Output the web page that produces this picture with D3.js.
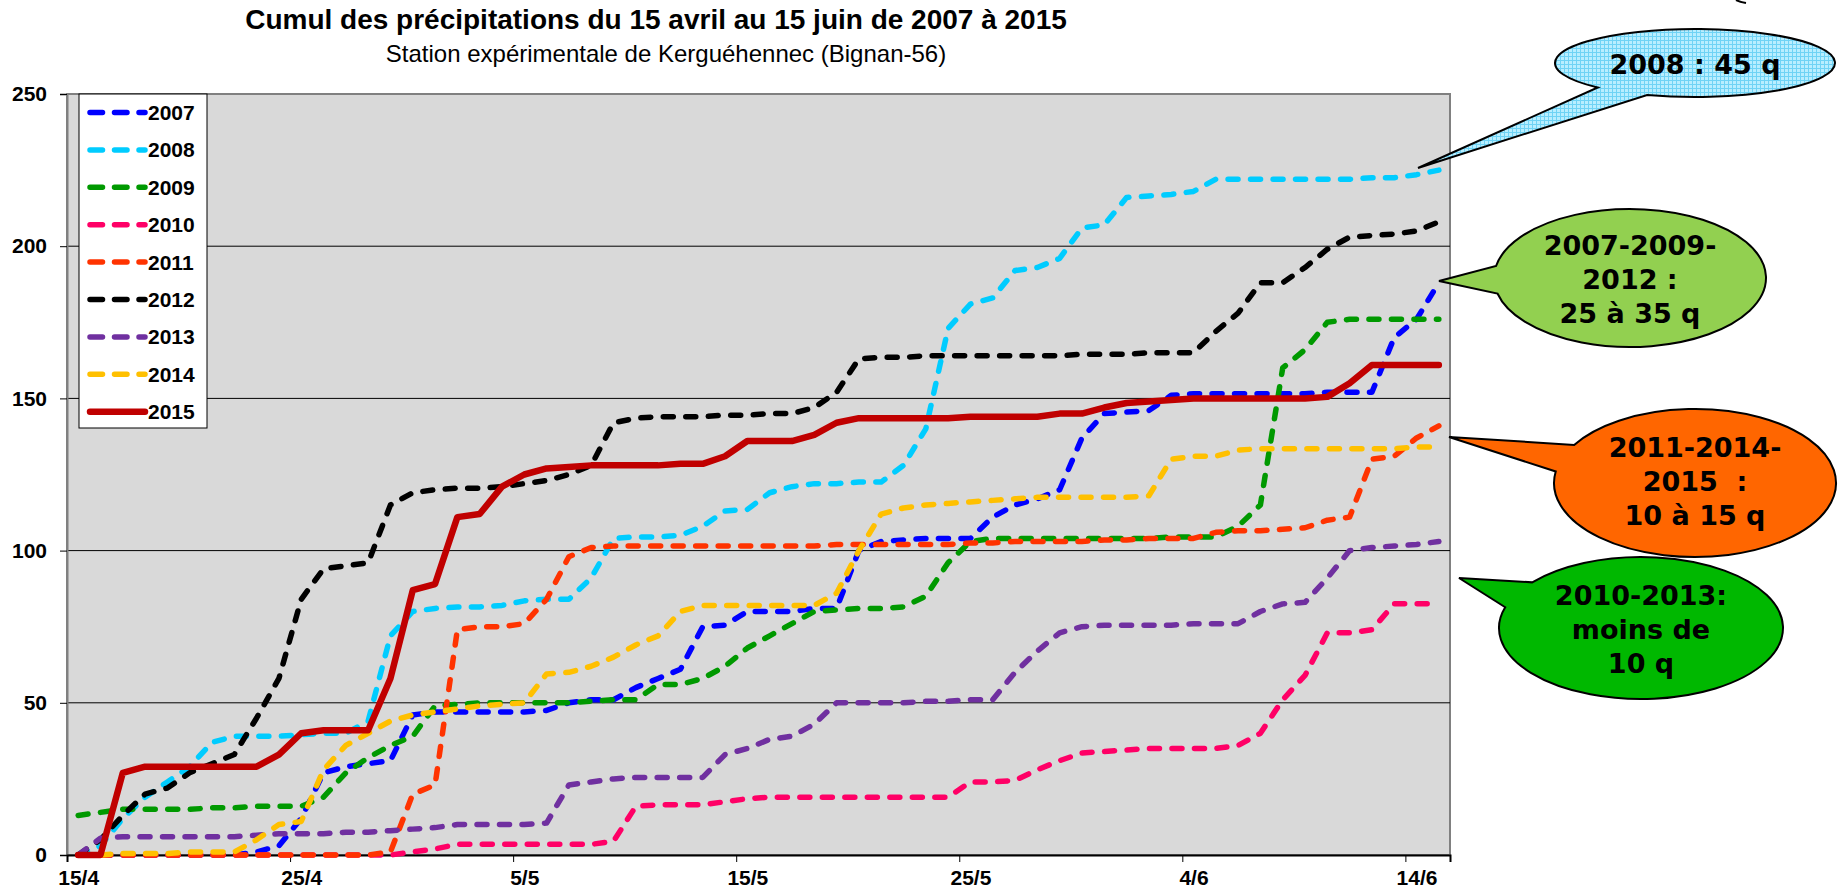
<!DOCTYPE html>
<html>
<head>
<meta charset="utf-8">
<script src="https://cdn.jsdelivr.net/npm/d3@7"></script>
<style>
  body { margin: 0; background: #fff; }
  svg { display: block; }
  .tick text { font-family: "Liberation Sans", Arial, sans-serif; font-weight: bold; font-size: 21px; fill: #000; }
</style>
</head>
<body>
<svg id="chart" width="1838" height="889"></svg>
<script>
// days from 15/4 to 15/6 (one value per day)
var categories = d3.timeDay.range(new Date(2015, 3, 15), new Date(2015, 5, 16)).map(d3.timeFormat('%-d/%-m'));
var tickDays = [0, 10, 20, 30, 40, 50, 60];
var yTicks = [0, 50, 100, 150, 200, 250];
var years = ['2007', '2008', '2009', '2010', '2011', '2012', '2013', '2014', '2015'];

var v2007 = [0, 0, 0, 0, 0, 0, 0, 0, 1, 3, 12, 27, 29, 30, 31, 46, 47, 47, 47, 47, 47, 47.5, 50, 51, 51, 55, 58, 61, 75, 75.5,
  80, 80, 80, 81, 81, 100, 103, 103.5, 104, 104, 104, 111, 115, 117, 120, 137, 145, 145.5, 146, 151, 151.5, 151.5, 151.5, 151.5, 151.5, 151.5,
  152, 152, 152, 170, 176, 188];
var v2008 = [0, 3, 12, 19, 24, 29, 37, 39, 39, 39, 39.5, 40, 40, 44, 72, 80, 81, 81.5, 81.5, 82, 83.5, 84, 84, 91, 104, 104.5, 104.5, 105, 108, 113,
  113.5, 119, 121, 122, 122, 122.5, 122.5, 128, 140, 173, 181, 183, 192, 193, 196, 206, 207, 216, 216.5, 217, 218, 222, 222, 222, 222, 222,
  222, 222, 222.5, 222.5, 223.5, 225];
var v2009 = [13, 14, 15, 15, 15, 15, 15.5, 15.5, 16, 16, 16, 19, 27, 32, 36, 39, 49, 49.5, 50, 50, 50, 50, 50, 50.5, 51, 51, 56, 56, 58, 62,
  68, 72, 76, 80, 80.5, 81, 81, 81.5, 85, 96, 103, 104, 104, 104, 104, 104, 104, 104, 104, 104.5, 104.5, 104.5, 108, 115, 160, 166,
  175, 176, 176, 176, 176, 176];
var v2010 = [0, 0, 0, 0, 0, 0, 0, 0, 0, 0, 0, 0, 0, 0, 0, 1, 2, 3.5, 3.5, 3.5, 3.5, 3.5, 3.5, 3.5, 4.5, 16, 16.5, 16.5, 16.5, 17.5,
  18.5, 19, 19, 19, 19, 19, 19, 19, 19, 19, 24, 24, 24.5, 28, 31, 33.5, 34, 34.5, 35, 35, 35, 35, 36, 40, 51, 59,
  73, 73, 74, 82.5, 82.5, 82.5];
var v2011 = [0, 0, 0, 0, 0, 0, 0, 0, 0, 0, 0, 0, 0, 0, 1, 20, 23, 74, 75, 75, 76, 84, 98, 101, 101.5, 101.5, 101.5, 101.5, 101.5, 101.5,
  101.5, 101.5, 101.5, 101.5, 102, 102, 102, 102, 102, 102, 102.5, 102.5, 103, 103, 103, 103, 103.5, 103.5, 104, 104, 104, 106, 106.5, 106.5, 107, 107.5,
  110, 111, 130, 131, 137, 141];
var v2012 = [0, 5, 13, 20, 22, 27, 30, 33, 45, 58, 84, 94, 95, 96, 115, 119, 120, 120.5, 120.5, 121, 122, 123, 125, 128, 142, 143.5, 144, 144, 144, 144.5,
  144.5, 145, 145, 147, 152, 163, 163.5, 163.5, 164, 164, 164, 164, 164, 164, 164, 164.5, 164.5, 164.5, 165, 165, 165, 172, 178, 188, 188, 193,
  199, 203, 203.5, 204, 205, 208];
var v2013 = [0, 5.5, 6, 6, 6, 6, 6, 6, 6.5, 7, 7, 7, 7.5, 7.5, 8, 8.5, 9, 10, 10, 10, 10, 10.5, 23, 24, 25, 25.5, 25.5, 25.5, 25.5, 33,
  35, 38, 39, 43, 50, 50, 50, 50, 50.5, 50.5, 51, 51, 60, 67, 73, 75, 75.5, 75.5, 75.5, 75.5, 76, 76, 76, 80, 82.5, 83,
  91, 100, 101, 101.5, 102, 103];
var v2014 = [0, 0, 0.5, 0.5, 0.5, 1, 1, 1, 5, 10, 11, 28, 36, 40, 44, 46, 47, 48, 49, 49.5, 50, 59.5, 60, 62, 65, 69, 72, 80, 82, 82,
  82, 82, 82, 82, 86, 100, 112, 114, 115, 115.5, 116, 116.5, 117, 117.5, 117.5, 117.5, 117.5, 117.5, 118, 130, 131, 131, 133, 133.5, 133.5, 133.5,
  133.5, 133.5, 133.5, 133.5, 134, 134];
var v2015 = [0, 0, 27, 29, 29, 29, 29, 29, 29, 33, 40, 41, 41, 41, 58, 87, 89, 111, 112, 121, 125, 127, 127.5, 128, 128, 128, 128, 128.5, 128.5, 131,
  136, 136, 136, 138, 142, 143.5, 143.5, 143.5, 143.5, 143.5, 144, 144, 144, 144, 145, 145, 147, 148.5, 149, 149.5, 150, 150, 150, 150, 150, 150,
  150.5, 155, 161, 161, 161, 161];

var seriesValues = [v2007, v2008, v2009, v2010, v2011, v2012, v2013, v2014, v2015];
var colors = ['#0000FF', '#00CCFF', '#009900', '#FF0066', '#FF3300', '#000000', '#7030A0', '#FFC000', '#C00000'];

var title = 'Cumul des précipitations du 15 avril au 15 juin de 2007 à 2015';
var subtitle = 'Station expérimentale de Kerguéhennec (Bignan-56)';

var callouts = [
  { lines: ['2008 : 45 q'], fill: 'url(#hatch)', cx: 1695, cy: 63, rx: 140, ry: 34, a1: 134, a2: 110, tip: [1418, 168], ty: 74 },
  { lines: ['2007-2009-', '2012 :', '25 à 35 q'], fill: '#92D050', cx: 1630, cy: 278, rx: 136, ry: 69, a1: 190, a2: 167, tip: [1439, 281], ty: 255 },
  { lines: ['2011-2014-', '2015  :', '10 à 15 q'], fill: '#FF6600', cx: 1695, cy: 483, rx: 141, ry: 74, a1: 211, a2: 189, tip: [1449, 437], ty: 457 },
  { lines: ['2010-2013:', 'moins de', '10 q'], fill: '#00B800', cx: 1641, cy: 628, rx: 142, ry: 71, a1: 220, a2: 197, tip: [1459, 578], ty: 605 }
];

var plot = { left: 67, right: 1450, top: 94, bottom: 855 };

var svg = d3.select('#chart');

var defs = svg.append('defs');
var hatch = defs.append('pattern')
  .attr('id', 'hatch')
  .attr('width', 4)
  .attr('height', 4)
  .attr('patternUnits', 'userSpaceOnUse');
hatch.append('rect').attr('width', 4).attr('height', 4).attr('fill', '#B8EEFF');
hatch.append('path').attr('d', 'M0,0.5H4M0.5,0V4').attr('stroke', '#6FD3F5').attr('stroke-width', 1);

var x = d3.scaleLinear()
  .domain([0, categories.length])
  .range([plot.left, plot.right]);

var y = d3.scaleLinear()
  .domain([0, 250])
  .range([plot.bottom, plot.top]);

// titles
svg.append('text')
  .attr('x', 656)
  .attr('y', 29)
  .attr('text-anchor', 'middle')
  .attr('font-family', '"Liberation Sans", Arial, sans-serif')
  .attr('font-weight', 'bold')
  .attr('font-size', 28)
  .text(title);

svg.append('text')
  .attr('x', 666)
  .attr('y', 62)
  .attr('text-anchor', 'middle')
  .attr('font-family', '"Liberation Sans", Arial, sans-serif')
  .attr('font-size', 24)
  .text(subtitle);

// plot area
svg.append('rect')
  .attr('x', plot.left)
  .attr('y', plot.top)
  .attr('width', plot.right - plot.left)
  .attr('height', plot.bottom - plot.top)
  .attr('fill', '#D9D9D9')
  .attr('stroke', '#808080')
  .attr('stroke-width', 2);

svg.append('g')
  .selectAll('line')
  .data(yTicks.filter(function(d) { return d > 0 && d < 250; }))
  .enter().append('line')
    .attr('x1', plot.left)
    .attr('x2', plot.right)
    .attr('y1', function(d) { return y(d); })
    .attr('y2', function(d) { return y(d); })
    .attr('stroke', '#000')
    .attr('stroke-width', 1);

// axes
var yAxis = d3.axisLeft(y)
  .tickValues(yTicks)
  .tickSize(7)
  .tickPadding(13);

var yg = svg.append('g')
  .attr('transform', 'translate(' + plot.left + ',0)')
  .call(yAxis);
yg.select('.domain').attr('stroke', '#808080').attr('stroke-width', 2);

var xAxis = d3.axisBottom(x)
  .tickValues(tickDays)
  .tickFormat(function(i) { return categories[i]; })
  .tickSize(7)
  .tickPadding(8);

var xg = svg.append('g')
  .attr('transform', 'translate(0,' + plot.bottom + ')')
  .call(xAxis);
xg.select('.domain').attr('stroke', '#000').attr('stroke-width', 2);
xg.selectAll('.tick text').attr('dx', (x(1) - x(0)) / 2);

// lines
var line = d3.line()
  .x(function(d, i) { return x(i + 0.5); })
  .y(function(d) { return y(d); });

svg.append('g')
  .selectAll('path')
  .data(seriesValues)
  .enter().append('path')
    .attr('d', line)
    .attr('fill', 'none')
    .attr('stroke', function(d, i) { return colors[i]; })
    .attr('stroke-width', function(d, i) { return i === 8 ? 6.5 : 5.5; })
    .attr('stroke-dasharray', function(d, i) { return i === 8 ? null : '10 12.5'; })
    .attr('stroke-linecap', 'round')
    .attr('stroke-linejoin', 'round');

// legend
var legend = svg.append('g').attr('transform', 'translate(79,94)');
legend.append('rect')
  .attr('width', 128)
  .attr('height', 334)
  .attr('fill', '#fff')
  .attr('stroke', '#000')
  .attr('stroke-width', 1);

var items = legend.selectAll('.item')
  .data(years)
  .enter().append('g')
    .attr('class', 'item')
    .attr('transform', function(d, i) { return 'translate(0,' + (18.5 + i * 37.4) + ')'; });

items.append('line')
  .attr('x1', 11)
  .attr('x2', 66)
  .attr('stroke', function(d, i) { return colors[i]; })
  .attr('stroke-width', function(d, i) { return i === 8 ? 6.5 : 5.5; })
  .attr('stroke-dasharray', function(d, i) { return i === 8 ? null : '12.5 12'; })
  .attr('stroke-linecap', 'round');

items.append('text')
  .attr('x', 69)
  .attr('dy', '0.36em')
  .attr('font-family', '"Liberation Sans", Arial, sans-serif')
  .attr('font-weight', 'bold')
  .attr('font-size', 21)
  .text(function(d) { return d; });

// callouts
function bubble(c) {
  var r1 = c.a1 * Math.PI / 180, r2 = c.a2 * Math.PI / 180;
  var p1 = [c.cx + c.rx * Math.cos(r1), c.cy + c.ry * Math.sin(r1)];
  var p2 = [c.cx + c.rx * Math.cos(r2), c.cy + c.ry * Math.sin(r2)];
  return 'M' + p1 + 'A' + c.rx + ',' + c.ry + ' 0 1,1 ' + p2 + 'L' + c.tip + 'Z';
}

var cg = svg.append('g')
  .selectAll('g')
  .data(callouts)
  .enter().append('g');

cg.append('path')
  .attr('d', bubble)
  .attr('fill', function(d) { return d.fill; })
  .attr('stroke', '#000')
  .attr('stroke-width', 2)
  .attr('stroke-linejoin', 'miter');

cg.each(function(c) {
  d3.select(this).selectAll('text')
    .data(c.lines)
    .enter().append('text')
      .attr('x', c.cx)
      .attr('y', function(d, i) { return c.ty + i * 34; })
      .attr('text-anchor', 'middle')
      .attr('font-family', '"DejaVu Sans", Verdana, sans-serif')
      .attr('font-weight', 'bold')
      .attr('font-size', 27)
      .attr('xml:space', 'preserve')
      .style('white-space', 'pre')
      .text(function(d) { return d; });
});

// bit of another callout cut by the top edge
svg.append('path')
  .attr('d', 'M1736,0Q1740,2 1746,3')
  .attr('fill', 'none')
  .attr('stroke', '#000')
  .attr('stroke-width', 2);
</script>
</body>
</html>
